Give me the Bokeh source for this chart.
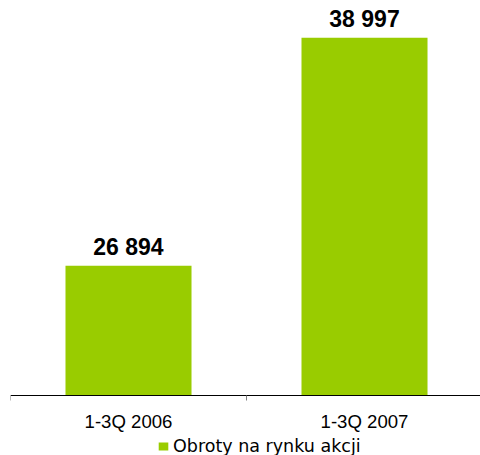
from bokeh.plotting import figure
from bokeh.models import (ColumnDataSource, Range1d, FixedTicker, Legend, LegendItem,
                          LabelSet)
from bokeh.core.properties import value
from bokeh.embed import file_html
from bokeh.resources import INLINE

categories = ["1-3Q 2006", "1-3Q 2007"]
values = [26894, 38997]
value_labels = ["26 894", "38 997"]
series_name = "Obroty na rynku akcji"
baseline = 20000

GREEN = "#99CC00"

xs = list(range(len(categories)))
src = ColumnDataSource(dict(x=xs, top=values, label=value_labels))

p = figure(width=480, height=455, output_backend="svg", toolbar_location=None,
           x_range=Range1d(-0.5, 1.4915), y_range=Range1d(16815, 40968),
           min_border_left=10, min_border_right=0, min_border_top=0, min_border_bottom=0)

r = p.vbar(x="x", top="top", bottom=baseline, width=0.534, source=src,
           fill_color=GREEN, line_color=None)

labels = LabelSet(x="x", y="top", text="label", source=src, text_align="center",
                  text_baseline="alphabetic", y_offset=11,
                  text_font=value("Liberation Sans"), text_font_style="bold",
                  text_font_size="23px", text_color="black")
p.add_layout(labels)

p.xgrid.visible = False
p.ygrid.visible = False
p.outline_line_color = None
p.yaxis.visible = False

ax = p.xaxis[0]
ax.fixed_location = baseline
ax.ticker = FixedTicker(ticks=xs, minor_ticks=[-0.5, 0.5, 1.5])
ax.major_label_overrides = {i: c for i, c in enumerate(categories)}
ax.major_tick_out = 0
ax.major_tick_in = 0
ax.minor_tick_out = 5
ax.minor_tick_in = 0
ax.minor_tick_line_color = "#808080"
ax.axis_line_color = "black"
ax.major_label_standoff = 10
ax.major_label_text_font = "Liberation Sans"
ax.major_label_text_font_size = "18.6px"
ax.major_label_text_color = "black"

legend = Legend(items=[LegendItem(label=series_name, renderers=[r])],
                orientation="horizontal", location=(147, -1),
                glyph_width=12, glyph_height=10, label_standoff=4,
                label_text_font="DejaVu Sans", label_text_font_size="17.5px",
                label_text_color="black", border_line_color=None,
                background_fill_alpha=0, padding=0, margin=0)
p.add_layout(legend, "center")

open("out.html", "w").write(file_html(p, INLINE))
